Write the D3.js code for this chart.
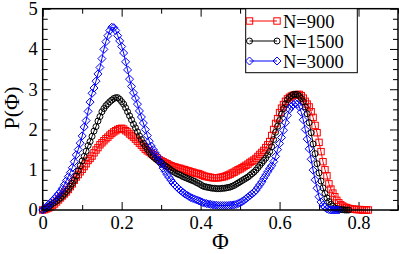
<!DOCTYPE html>
<html>
<head>
<meta charset="utf-8">
<script src="https://cdn.jsdelivr.net/npm/d3@7"></script>
<style>
html,body{margin:0;padding:0;background:#fff;}
svg{display:block;}
svg text{font-family:"Liberation Serif","Times New Roman",Times,"DejaVu Serif",serif !important;}
</style>
</head>
<body>
<svg id="chart" width="399" height="254"></svg>
<script>
// bin centres of Φ
const phi = [
0.000,0.005,0.010,0.015,0.020,0.025,0.030,0.035,0.040,0.045,
0.050,0.055,0.060,0.065,0.070,0.075,0.080,0.085,0.090,0.095,
0.100,0.105,0.110,0.115,0.120,0.125,0.130,0.135,0.140,0.145,
0.150,0.155,0.160,0.165,0.170,0.175,0.180,0.185,0.190,0.195,
0.200,0.205,0.210,0.215,0.220,0.225,0.230,0.235,0.240,0.245,
0.250,0.255,0.260,0.265,0.270,0.275,0.280,0.285,0.290,0.295,
0.300,0.305,0.310,0.315,0.320,0.325,0.330,0.335,0.340,0.345,
0.350,0.355,0.360,0.365,0.370,0.375,0.380,0.385,0.390,0.395,
0.400,0.405,0.410,0.415,0.420,0.425,0.430,0.435,0.440,0.445,
0.450,0.455,0.460,0.465,0.470,0.475,0.480,0.485,0.490,0.495,
0.500,0.505,0.510,0.515,0.520,0.525,0.530,0.535,0.540,0.545,
0.550,0.555,0.560,0.565,0.570,0.575,0.580,0.585,0.590,0.595,
0.600,0.605,0.610,0.615,0.620,0.625,0.630,0.635,0.640,0.645,
0.650,0.655,0.660,0.665,0.670,0.675,0.680,0.685,0.690,0.695,
0.700,0.705,0.710,0.715,0.720,0.725,0.730,0.735,0.740,0.745,
0.750,0.755,0.760,0.765,0.770,0.775,0.780,0.785,0.790,0.795,
0.800,0.805,0.810,0.815,0.820,0.825];

const pN900 = [
0.00,0.01,0.03,0.05,0.08,0.11,0.15,0.20,0.25,0.30,
0.35,0.40,0.45,0.51,0.58,0.65,0.74,0.82,0.88,0.95,
1.01,1.08,1.15,1.23,1.28,1.34,1.42,1.49,1.55,1.62,
1.67,1.72,1.77,1.81,1.86,1.90,1.94,1.97,2.00,2.02,
2.03,2.01,1.97,1.94,1.89,1.85,1.81,1.76,1.71,1.66,
1.61,1.56,1.51,1.47,1.44,1.40,1.37,1.33,1.29,1.25,
1.22,1.20,1.17,1.15,1.12,1.10,1.08,1.07,1.05,1.04,
1.03,1.01,1.00,0.98,0.97,0.95,0.94,0.92,0.91,0.90,
0.88,0.86,0.84,0.83,0.82,0.81,0.80,0.80,0.80,0.80,
0.81,0.82,0.83,0.85,0.87,0.89,0.92,0.94,0.97,1.00,
1.02,1.05,1.08,1.11,1.14,1.18,1.21,1.24,1.28,1.33,
1.38,1.43,1.48,1.55,1.62,1.70,1.85,2.00,2.15,2.27,
2.42,2.53,2.62,2.70,2.76,2.80,2.83,2.85,2.86,2.87,
2.87,2.84,2.78,2.70,2.63,2.56,2.44,2.30,2.10,1.92,
1.68,1.45,1.20,1.00,0.85,0.65,0.52,0.42,0.33,0.24,
0.18,0.13,0.10,0.07,0.06,0.04,0.03,0.02,0.02,0.01,
0.01,0.01,0.00,0.00,0.00,0.00];

const pN1500 = [
0.00,0.02,0.04,0.08,0.12,0.16,0.19,0.22,0.26,0.30,
0.35,0.40,0.46,0.52,0.59,0.66,0.74,0.84,0.97,1.10,
1.22,1.33,1.46,1.60,1.70,1.83,1.96,2.07,2.21,2.32,
2.44,2.52,2.59,2.64,2.69,2.73,2.77,2.79,2.79,2.75,
2.69,2.63,2.54,2.44,2.34,2.24,2.13,2.04,1.94,1.84,
1.75,1.66,1.58,1.51,1.44,1.37,1.32,1.28,1.24,1.21,
1.18,1.14,1.10,1.07,1.03,0.99,0.96,0.93,0.90,0.88,
0.86,0.83,0.81,0.79,0.77,0.75,0.73,0.71,0.68,0.66,
0.63,0.60,0.58,0.57,0.56,0.55,0.54,0.54,0.53,0.53,
0.53,0.54,0.54,0.55,0.56,0.57,0.59,0.61,0.64,0.67,
0.70,0.73,0.76,0.79,0.82,0.86,0.90,0.94,0.99,1.05,
1.11,1.17,1.23,1.29,1.37,1.45,1.57,1.75,1.93,2.08,
2.22,2.38,2.52,2.64,2.74,2.80,2.84,2.87,2.87,2.87,
2.83,2.77,2.69,2.56,2.39,2.17,1.92,1.64,1.40,1.15,
0.92,0.72,0.55,0.41,0.30,0.21,0.14,0.09,0.05,0.03,
0.02,0.01,0.01,0.00,0.00,0.00];

const pN3000 = [
0.00,0.04,0.08,0.13,0.18,0.23,0.28,0.34,0.40,0.46,
0.54,0.63,0.73,0.83,0.93,1.05,1.20,1.37,1.50,1.66,
1.84,2.06,2.22,2.45,2.68,2.90,3.03,3.20,3.38,3.54,
3.76,3.99,4.18,4.33,4.46,4.54,4.53,4.46,4.33,4.20,
4.06,3.90,3.68,3.48,3.25,3.07,2.91,2.78,2.63,2.46,
2.31,2.16,2.00,1.85,1.71,1.59,1.50,1.42,1.34,1.24,
1.14,1.04,0.96,0.88,0.81,0.74,0.67,0.62,0.57,0.52,
0.48,0.44,0.40,0.37,0.34,0.31,0.29,0.27,0.25,0.23,
0.21,0.19,0.17,0.16,0.15,0.14,0.13,0.12,0.12,0.11,
0.11,0.11,0.11,0.11,0.11,0.12,0.12,0.13,0.14,0.16,
0.18,0.21,0.24,0.28,0.32,0.36,0.40,0.44,0.49,0.56,
0.63,0.70,0.79,0.87,0.95,1.03,1.10,1.20,1.33,1.50,
1.65,1.80,1.98,2.17,2.35,2.50,2.57,2.62,2.65,2.63,
2.56,2.43,2.24,2.00,1.76,1.52,1.26,0.99,0.75,0.54,
0.33,0.20,0.12,0.07,0.03,0.01,0.00,0.00,0.00,0.00,
0.00];

const seriesNames = ["N=900", "N=1500", "N=3000"];
const seriesValues = [pN900, pN1500, pN3000];
const seriesColors = ["#ff0000", "#000000", "#0000ff"];
const seriesSymbols = ["square", "circle", "diamond"];

const xMajorTicks = [0, 0.2, 0.4, 0.6, 0.8];
const xTickLabels = ["0", "0.2", "0.4", "0.6", "0.8"];
const yMajorTicks = [0, 1, 2, 3, 4, 5];
const yTickLabels = ["0", "1", "2", "3", "4", "5"];
const xLabel = "Φ";
const yLabel = "P(Φ)";

const FONT = '"Liberation Serif","Times New Roman",Times,"DejaVu Serif",serif';
const svg = d3.select("#chart");
const L = 42.7, R = 398, T = 8.7, B = 210;
const x = d3.scaleLinear().domain([0, 0.9]).range([L, R]);
const y = d3.scaleLinear().domain([0, 5]).range([B, T]);

svg.append("rect").attr("width", 399).attr("height", 254).attr("fill", "#fff");

const fontSize = 18.5;
const xMinor = d3.range(0, 0.9001, 0.1).filter(v => Math.abs(Math.round(v*5)-v*5) > 1e-6);
const yMinor = d3.range(0, 5.0001, 0.25).filter(v => Math.abs(Math.round(v)-v) > 1e-6);

function styleAxis(g) {
  g.attr("font-family", FONT);
  g.select(".domain").remove();
  g.selectAll(".tick line").attr("stroke", "#000").attr("stroke-width", 1);
  g.selectAll("text").attr("font-size", fontSize).attr("fill", "#000")
    .attr("font-family", FONT);
}

// bottom
svg.append("g").attr("transform", `translate(0,${B})`)
  .call(d3.axisBottom(x).tickValues(xMajorTicks).tickFormat((d,i) => xTickLabels[i]).tickSize(-8).tickPadding(6))
  .call(styleAxis);
svg.append("g").attr("transform", `translate(0,${B})`)
  .call(d3.axisBottom(x).tickValues(xMinor).tickFormat("").tickSize(-5))
  .call(styleAxis);
// top
svg.append("g").attr("transform", `translate(0,${T})`)
  .call(d3.axisTop(x).tickValues(xMajorTicks).tickFormat("").tickSize(-8))
  .call(styleAxis);
svg.append("g").attr("transform", `translate(0,${T})`)
  .call(d3.axisTop(x).tickValues(xMinor).tickFormat("").tickSize(-5))
  .call(styleAxis);
// left
svg.append("g").attr("transform", `translate(${L},0)`)
  .call(d3.axisLeft(y).tickValues(yMajorTicks).tickFormat((d,i) => yTickLabels[i]).tickSize(-8).tickPadding(5))
  .call(styleAxis);
svg.append("g").attr("transform", `translate(${L},0)`)
  .call(d3.axisLeft(y).tickValues(yMinor).tickFormat("").tickSize(-5))
  .call(styleAxis);
// right
svg.append("g").attr("transform", `translate(${R},0)`)
  .call(d3.axisRight(y).tickValues(yMajorTicks).tickFormat("").tickSize(-8))
  .call(styleAxis);
svg.append("g").attr("transform", `translate(${R},0)`)
  .call(d3.axisRight(y).tickValues(yMinor).tickFormat("").tickSize(-5))
  .call(styleAxis);

// symbols
function drawSymbol(g, type, cx, cy, color) {
  if (type === "square") {
    g.append("rect").attr("x", cx-3.2).attr("y", cy-3.2).attr("width", 6.4).attr("height", 6.4)
      .attr("fill", "none").attr("stroke", color).attr("stroke-width", 1);
  } else if (type === "circle") {
    g.append("circle").attr("cx", cx).attr("cy", cy).attr("r", 3)
      .attr("fill", "none").attr("stroke", color).attr("stroke-width", 1);
  } else {
    g.append("path").attr("d", `M${cx},${cy-4}L${cx+4},${cy}L${cx},${cy+4}L${cx-4},${cy}Z`)
      .attr("fill", "none").attr("stroke", color).attr("stroke-width", 1);
  }
}

const line = d3.line().x(d => x(d[0])).y(d => y(d[1]));
seriesValues.forEach((vals, si) => {
  const pts = vals.map((v, i) => [phi[i], v]);
  const g = svg.append("g");
  g.append("path").attr("d", line(pts)).attr("fill", "none")
    .attr("stroke", seriesColors[si]).attr("stroke-width", 1);
  pts.forEach(p => drawSymbol(g, seriesSymbols[si], x(p[0]), y(p[1]), seriesColors[si]));
});

// frame
svg.append("rect").attr("x", L).attr("y", T).attr("width", R-L).attr("height", B-T)
  .attr("fill", "none").attr("stroke", "#000").attr("stroke-width", 1.5);

// legend
const lg = svg.append("g");
lg.append("rect").attr("x", 245.7).attr("y", T).attr("width", 111.6).attr("height", 64)
  .attr("fill", "#fff").attr("stroke", "#000").attr("stroke-width", 1);
seriesNames.forEach((name, i) => {
  const cy = 21 + i*20;
  lg.append("line").attr("x1", 249.5).attr("x2", 277).attr("y1", cy).attr("y2", cy)
    .attr("stroke", seriesColors[i]).attr("stroke-width", 1);
  drawSymbol(lg, seriesSymbols[i], 249.5, cy, seriesColors[i]);
  drawSymbol(lg, seriesSymbols[i], 277, cy, seriesColors[i]);
  lg.append("text").attr("x", 283).attr("y", cy + 6.5).attr("font-size", fontSize)
    .attr("font-family", FONT).attr("fill", "#000").text(name);
});

// axis titles
svg.append("text").attr("x", (L+R)/2).attr("y", 249).attr("text-anchor", "middle")
  .attr("font-family", FONT).attr("font-size", 23).attr("fill", "#000").text(xLabel);
svg.append("text").attr("transform", "translate(19,108) rotate(-90)").attr("text-anchor", "middle")
  .attr("font-family", FONT).attr("font-size", 22).attr("fill", "#000").text(yLabel);
</script>
</body>
</html>
